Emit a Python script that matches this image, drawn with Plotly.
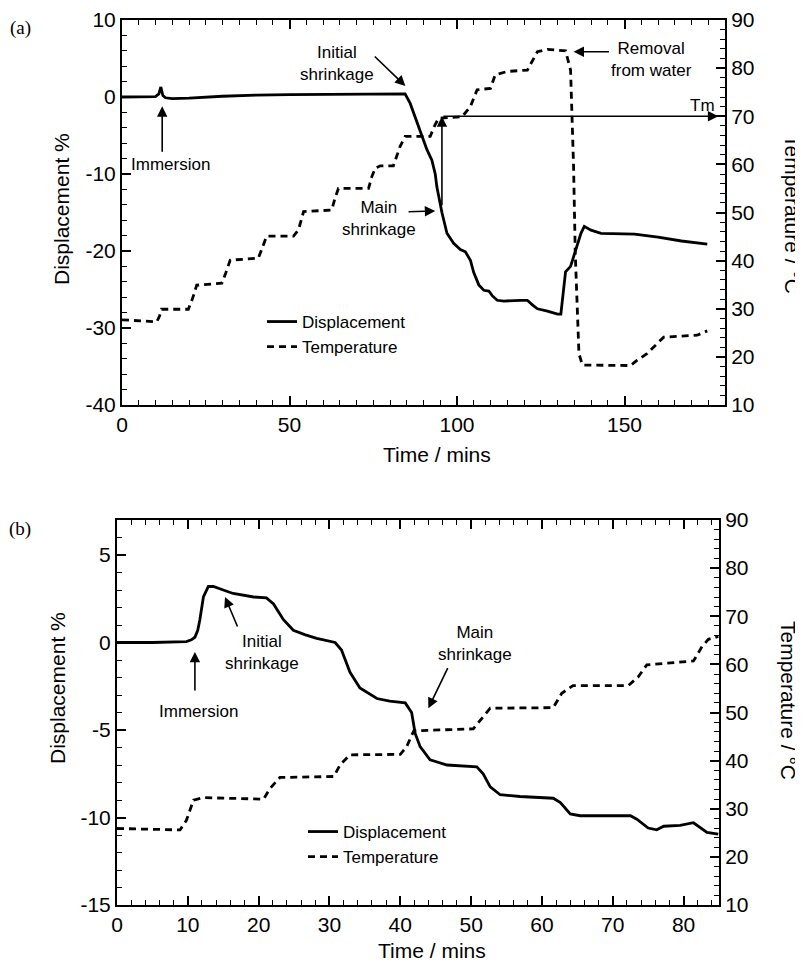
import plotly.graph_objects as go

# ---------------- Panel (a) data ----------------
a_disp_time = [0, 10, 11, 11.6, 12.2, 13, 15, 20, 30, 40, 50, 60, 70, 80, 84.5, 86, 88, 89.5,
               91, 92.5, 93.5, 94, 95.5, 97, 99, 101, 102.5, 104, 105, 106.5, 108, 109.5, 110.5,
               112, 114, 119, 121, 122.5, 124, 127, 130, 131, 131.8, 132.4, 133.9, 135.5, 137,
               138, 140, 143, 153, 160, 167, 174.7]
a_disp = [0, 0.05, 0.4, 1.3, 0.2, -0.1, -0.2, -0.15, 0.1, 0.25, 0.3, 0.35, 0.4, 0.45, 0.4, -0.8,
          -3.2, -5.2, -6.8, -8.2, -10, -11.7, -15, -17.7, -19, -19.8, -20.1, -21.2, -22.8, -24.4,
          -25.1, -25.2, -25.8, -26.4, -26.5, -26.4, -26.4, -27, -27.5, -27.8, -28.2, -28.2, -25,
          -22.7, -22, -19.8, -17.7, -16.8, -17.3, -17.7, -17.8, -18.2, -18.7, -19.1]

a_temp_time = [0, 10.4, 11.2, 11.8, 19.8, 21, 22.3, 29.8, 31, 32.3, 40.7, 42, 43.2, 51.2, 52.7,
               54.2, 62.6, 63.6, 64.6, 73.6, 74.6, 75.6, 77.1, 81, 83, 84.5, 92, 93.3, 94.5, 101.5,
               104, 106, 110, 111.4, 115, 121, 122.4, 124, 127, 132.4, 133.9, 134.4, 134.8, 135.3,
               135.9, 136.4, 137.4, 151.8, 153.8, 156.8, 158.8, 161.7, 171.7, 174.7]
a_temp = [27.7, 27.3, 28.5, 29.9, 29.9, 32, 34.9, 35.3, 37.5, 40.1, 40.5, 43, 45.1, 45.1, 46.4,
          50.2, 50.5, 53, 55, 55, 57.5, 59.2, 59.7, 59.7, 63.7, 65.8, 65.8, 68, 69.6, 69.9,
          72, 75.5, 75.8, 78.6, 79.3, 79.6, 81.3, 83.4, 83.9, 83.6, 79.6, 69.9, 59.5, 41.5,
          27.7, 20.7, 18.3, 18.2, 19.3, 20.7, 22.1, 24.1, 24.5, 25.4]

# ---------------- Panel (b) data ----------------
b_disp_time = [0, 5, 9.8, 10.5, 11, 11.4, 11.7, 12.2, 12.9, 13.6, 15, 16.4, 19.3, 21.1, 22.1,
               23.5, 24.9, 26.5, 28.2, 30.8, 31.7, 32.9, 34.3, 36.7, 38.5, 40.7, 41.6, 42.1, 42.8,
               44.2, 46.6, 50.8, 51.7, 52.7, 54.1, 56.9, 61.6, 62.6, 64, 65.4, 72.5, 73.4, 75,
               76.2, 77.2, 79.5, 81.4, 83.3, 84.9]
b_disp = [0, 0, 0.05, 0.15, 0.3, 0.7, 1.3, 2.6, 3.2, 3.2, 3.0, 2.8, 2.6, 2.55, 2.2, 1.3, 0.7,
          0.45, 0.24, 0.0, -0.43, -1.7, -2.6, -3.2, -3.35, -3.45, -4.0, -5.2, -5.95, -6.7, -7.0,
          -7.1, -7.5, -8.25, -8.7, -8.8, -8.9, -9.15, -9.8, -9.9, -9.9, -10.1, -10.6, -10.7,
          -10.5, -10.45, -10.3, -10.85, -10.95]

b_temp_time = [0, 8.9, 9.8, 10.8, 12.2, 20.7, 21.6, 23, 30.6, 31.5, 32.9, 40, 40.9, 41.9, 50.3,
               51.3, 52.7, 61.6, 62.8, 64.4, 72.2, 73.6, 74.8, 81.4, 82.6, 83.5, 84.9]
b_temp = [25.9, 25.6, 27.6, 31.8, 32.3, 32.0, 34.2, 36.5, 36.7, 39.1, 41.2, 41.3, 42.9, 46.2,
          46.6, 48.4, 50.9, 51.0, 54.0, 55.6, 55.6, 57.4, 59.9, 60.7, 63.7, 65.2, 65.8]

series_names = ["Displacement", "Temperature"]
panel_labels = ["(a)", "(b)"]
x_title = "Time / mins"
y_left_title = "Displacement %"
y_right_title = "Temperature / °C"

a_disp_ticks = [-40, -30, -20, -10, 0, 10]
b_disp_ticks = [-15, -10, -5, 0, 5]
temp_ticks = [10, 20, 30, 40, 50, 60, 70, 80, 90]

# ---------------- styling ----------------
OFF = 8                     # default page margin of the html body
W, H = 803 - OFF, 963 - OFF
SANS = "Liberation Sans, Arial, sans-serif"
SERIF = "Liberation Serif, Times New Roman, serif"
BLACK = "black"

def fx(p):
    return (p - OFF) / W

def fy(p):
    return 1 - (p - OFF) / H

solid = dict(color=BLACK, width=2.8)
dashed = dict(color=BLACK, width=2.8, dash="7px,5px")

fig = go.Figure()
fig.add_trace(go.Scatter(x=a_disp_time, y=a_disp, mode="lines", name=series_names[0],
                         line=solid, xaxis="x", yaxis="y", legend="legend"))
fig.add_trace(go.Scatter(x=a_temp_time, y=a_temp, mode="lines", name=series_names[1],
                         line=dashed, xaxis="x", yaxis="y2", legend="legend"))
fig.add_trace(go.Scatter(x=b_disp_time, y=b_disp, mode="lines", name=series_names[0],
                         line=solid, xaxis="x2", yaxis="y3", legend="legend2"))
fig.add_trace(go.Scatter(x=b_temp_time, y=b_temp, mode="lines", name=series_names[1],
                         line=dashed, xaxis="x2", yaxis="y4", legend="legend2"))

def ax_style(dtick, minor_dtick, ticks_list=None):
    d = dict(
        showline=True, linecolor=BLACK, linewidth=2,
        ticks="inside", tickcolor=BLACK, tickwidth=1.8, ticklen=9,
        minor=dict(ticks="inside", ticklen=5, tickcolor=BLACK, tickwidth=1.4,
                   dtick=minor_dtick),
        showgrid=False, zeroline=False,
        tickfont=dict(family=SANS, size=21, color=BLACK),
    )
    if ticks_list is None:
        d.update(dtick=dtick, tick0=0, tickmode="linear")
    else:
        d.update(tickmode="array", tickvals=ticks_list,
                 ticktext=[str(v) for v in ticks_list])
    return d

layout = dict(
    width=W, height=H,
    margin=dict(l=0, r=0, t=0, b=0, autoexpand=False),
    paper_bgcolor="white", plot_bgcolor="white",
    font=dict(family=SANS, color=BLACK),
    xaxis=dict(domain=[fx(122), fx(725)], range=[0, 180], anchor="y", mirror="ticks",
               **ax_style(50, 5)),
    yaxis=dict(domain=[fy(405), fy(20)], range=[-40, 10], anchor="x",
               **ax_style(10, 2, a_disp_ticks)),
    yaxis2=dict(overlaying="y", side="right", range=[10, 90], anchor="x",
                **ax_style(10, 2, temp_ticks)),
    xaxis2=dict(domain=[fx(117), fx(719)], range=[0, 85], anchor="y3", mirror="ticks",
                **ax_style(10, 2)),
    yaxis3=dict(domain=[fy(905), fy(520)], range=[-15, 7], anchor="x2",
                **ax_style(5, 1, b_disp_ticks)),
    yaxis4=dict(overlaying="y3", side="right", range=[10, 90], anchor="x2",
                **ax_style(10, 2, temp_ticks)),
    legend=dict(x=fx(262), y=fy(304), xanchor="left", yanchor="top",
                bgcolor="rgba(0,0,0,0)", font=dict(family=SANS, size=17, color=BLACK),
                tracegroupgap=0),
    legend2=dict(x=fx(303), y=fy(814), xanchor="left", yanchor="top",
                 bgcolor="rgba(0,0,0,0)", font=dict(family=SANS, size=17, color=BLACK),
                 tracegroupgap=0),
    showlegend=True,
)
fig.update_layout(**layout)

ann_font = dict(family=SANS, size=17, color=BLACK)

def arrow(xr, yr, x, y, ax, ay):
    return dict(xref=xr, yref=yr, axref=xr, ayref=yr, x=x, y=y, ax=ax, ay=ay, text="",
                showarrow=True, arrowhead=2, arrowsize=1.3, arrowwidth=1.6, arrowcolor=BLACK)

def label(xr, yr, x, y, text):
    return dict(xref=xr, yref=yr, x=x, y=y, text=text, showarrow=False, font=ann_font,
                xanchor="center", yanchor="middle", align="center")

annotations = [
    arrow("x", "y", 12, -1.2, 12, -7.3),
    label("x", "y", 14.6, -8.8, "Immersion"),
    arrow("x", "y", 84.6, 1.43, 75, 5.45),
    label("x", "y", 64.1, 4.3, "Initial<br>shrinkage"),
    arrow("x", "y", 93.5, -14.8, 85.1, -14.9),
    label("x", "y", 76.8, -15.8, "Main<br>shrinkage"),
    arrow("x", "y2", 95.5, 70, 95.5, 51.2),
    arrow("x", "y2", 178, 70, 95.5, 70),
    label("x", "y2", 173.2, 72.3, "Tm"),
    arrow("x", "y2", 134.8, 83.4, 145.8, 83.4),
    label("x", "y2", 158.2, 81.7, "Removal<br>from water"),
    arrow("x2", "y3", 11.0, -0.54, 11.0, -2.83),
    label("x2", "y3", 11.5, -3.95, "Immersion"),
    arrow("x2", "y3", 15.25, 2.6, 17.1, 0.83),
    label("x2", "y3", 20.5, -0.57, "Initial<br>shrinkage"),
    arrow("x2", "y3", 43.96, -3.76, 46.8, -1.38),
    label("x2", "y3", 50.5, -0.03, "Main<br>shrinkage"),
    dict(xref="paper", yref="paper", x=fx(20), y=fy(28), text=panel_labels[0], showarrow=False,
         font=dict(family=SERIF, size=19, color=BLACK), xanchor="center", yanchor="middle"),
    dict(xref="paper", yref="paper", x=fx(20), y=fy(529), text=panel_labels[1], showarrow=False,
         font=dict(family=SERIF, size=19, color=BLACK), xanchor="center", yanchor="middle"),
]

title_font = dict(family=SANS, size=21, color=BLACK)
for (xl, yl, xr_, yr_, xt, yt) in [(62, 209, 793, 214, 437, 455), (57, 688, 789, 700, 432, 950)]:
    annotations.append(dict(xref="paper", yref="paper", x=fx(xl), y=fy(yl), text=y_left_title,
                            textangle=-90, showarrow=False, font=title_font,
                            xanchor="center", yanchor="middle"))
    annotations.append(dict(xref="paper", yref="paper", x=fx(xr_), y=fy(yr_), text=y_right_title,
                            textangle=90, showarrow=False, font=title_font,
                            xanchor="center", yanchor="middle"))
    annotations.append(dict(xref="paper", yref="paper", x=fx(xt), y=fy(yt), text=x_title,
                            showarrow=False, font=title_font,
                            xanchor="center", yanchor="middle"))

fig.update_layout(annotations=annotations)
fig.write_html("out.html")
